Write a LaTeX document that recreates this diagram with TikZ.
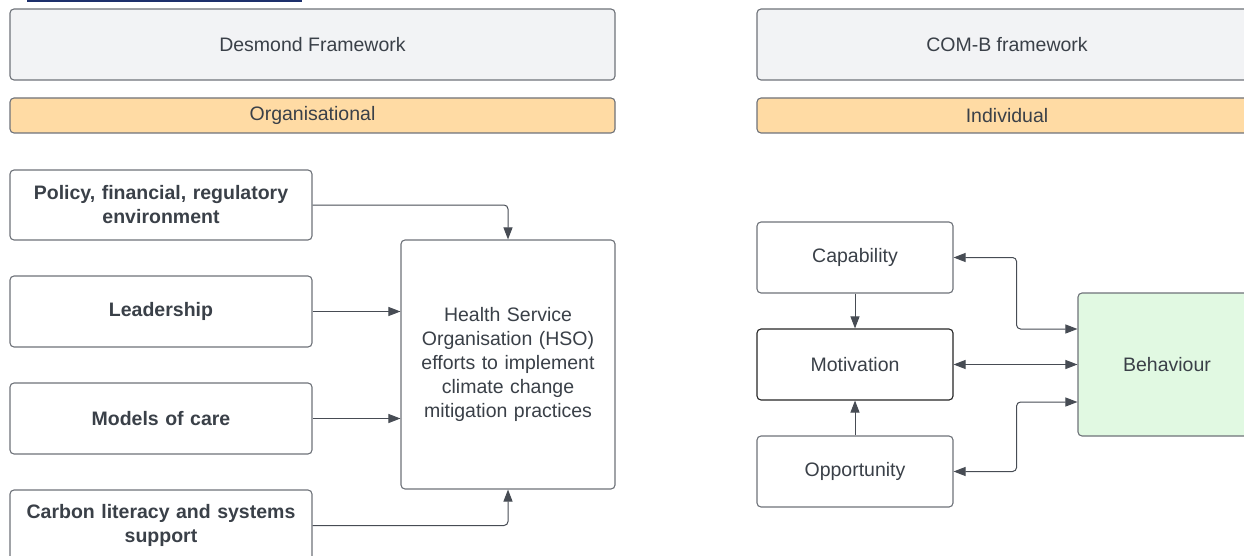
\documentclass[tikz,border=0pt]{standalone}
\usepackage{fontspec}
\setmainfont{Liberation Sans}
\usetikzlibrary{arrows.meta,calc}
\definecolor{txt}{HTML}{3A4048}
\definecolor{edge}{HTML}{6E7279}
\definecolor{lnk}{HTML}{474C54}
\definecolor{headfill}{HTML}{F2F3F5}
\definecolor{bandfill}{HTML}{FFDBA4}
\definecolor{behfill}{HTML}{E1F9E2}
\definecolor{navy}{HTML}{1C2F6B}
\tikzset{
  box/.style={draw=edge, line width=1.1pt, rounded corners=4pt, fill=white, text=txt,
    inner sep=0pt, align=center, font=\fontsize{19.5}{24}\selectfont},
  head/.style={box, fill=headfill},
  band/.style={box, fill=bandfill},
  factor/.style={box, font=\bfseries\fontsize{19.5}{24}\selectfont},
  conn/.style={draw=lnk, line width=1pt, rounded corners=4pt, -{Triangle[length=12pt,width=9pt]}},
  dconn/.style={conn, {Triangle[length=12pt,width=9pt]}-{Triangle[length=12pt,width=9pt]}}
}
\begin{document}
\begin{tikzpicture}[x=1pt,y=-1pt]
\useasboundingbox (0,0) rectangle (1244,556);
\begin{scope}
\clip (0,0) rectangle (1244,556);
\draw[navy, line width=1.6pt] (27,0.8) -- (302,0.8);
% left side
\node[head, minimum width=605pt, minimum height=71pt] (desmond) at (312.5,44.5) {Desmond Framework};
\node[band, minimum width=605pt, minimum height=35pt] (org) at (312.5,115.5) {Organisational};
\node[factor, minimum width=302pt, minimum height=70pt, text width=290pt] (policy) at (161,205) {Policy, financial, regulatory\\environment};
\node[factor, minimum width=302pt, minimum height=71pt, text width=290pt] (lead) at (161,311.5) {Leadership};
\node[factor, minimum width=302pt, minimum height=71pt, text width=290pt] (models) at (161,418.5) {Models of care};
\node[factor, minimum width=302pt, minimum height=71pt, text width=290pt] (carbon) at (161,525.5) {Carbon literacy and systems\\support};
\node[box, minimum width=214pt, minimum height=249pt, text width=200pt] (hso) at (508,364.5) {Health Service\\Organisation (HSO)\\efforts to implement\\climate change\\mitigation practices};
\draw[conn] (policy.east) -| (hso.north);
\draw[conn] (lead.east) -- (lead.east -| hso.west);
\draw[conn] (models.east) -- (models.east -| hso.west);
\draw[conn] (carbon.east) -| (hso.south);
% right side
\node[head, minimum width=500pt, minimum height=71pt] (comb) at (1007,44.5) {COM-B framework};
\node[band, minimum width=500pt, minimum height=35pt] (indiv) at (1007,115.5) {Individual};
\node[box, minimum width=196pt, minimum height=71pt] (cap) at (855,257.5) {Capability};
\node[box, draw=black!85, minimum width=196pt, minimum height=71pt] (mot) at (855,364.5) {Motivation};
\node[box, minimum width=196pt, minimum height=71pt] (opp) at (855,471.5) {Opportunity};
\node[box, fill=behfill, minimum width=178pt, minimum height=143pt] (beh) at (1167,364.5) {Behaviour};
\coordinate (b1) at ($(beh.west)+(0,-35.5)$);
\coordinate (b3) at ($(beh.west)+(0,37.5)$);
\draw[dconn] (cap.east) -- ++(63,0) |- (b1);
\draw[dconn] (mot.east) -- (beh.west);
\draw[dconn] (opp.east) -- ++(63,0) |- (b3);
\draw[conn] (cap.south) -- (mot.north);
\draw[conn] (opp.north) -- (mot.south);
\end{scope}
\end{tikzpicture}
\end{document}
